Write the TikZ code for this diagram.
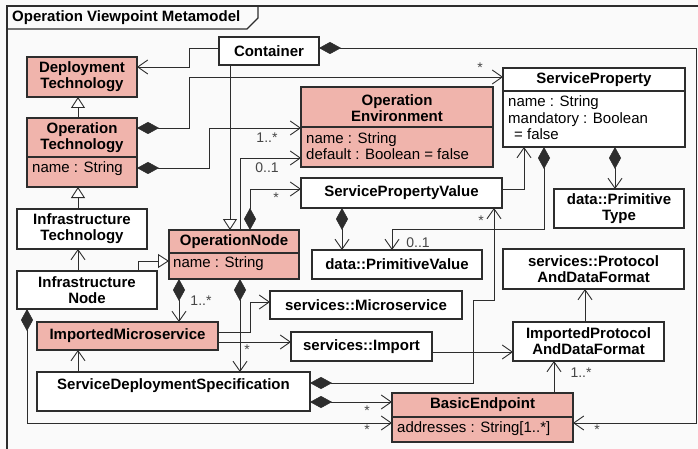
\documentclass[tikz,border=0pt]{standalone}
\usepackage{fontspec}
\setmainfont{Liberation Sans}
\usetikzlibrary{arrows.meta}
\definecolor{pinkfill}{RGB}{240,180,172}
\definecolor{bgc}{RGB}{250,250,250}
\definecolor{ln}{RGB}{45,45,45}
\definecolor{lbl}{RGB}{70,70,70}
\begin{document}
\begin{tikzpicture}[x=1pt,y=-1pt,
  box/.style={draw=ln, line width=1.1pt, fill=white, inner sep=0pt, outer sep=0pt,
    font=\fontsize{15}{16}\selectfont\bfseries, align=center},
  pbox/.style={box, fill=pinkfill},
  hd/.style={font=\fontsize{15}{16}\selectfont\bfseries, align=center, inner sep=0pt},
  attr/.style={font=\fontsize{15}{16.5}\selectfont, align=left, inner sep=0pt, anchor=west},
  ml/.style={font=\fontsize{14}{14}\selectfont, text=lbl, inner sep=0pt},
  divl/.style={draw=ln, line width=1.1pt},
  con/.style={draw=ln, line width=0.9pt},
  assoc/.style={con, -{Straight Barb[length=10pt,width=14pt,line width=0.9pt]}},
  comp/.style={con, {Diamond[length=22pt,width=12pt,fill=ln,line width=0.5pt]}-{Straight Barb[length=10pt,width=14pt,line width=0.9pt]}},
  gen/.style={con, -{Triangle[open,length=11pt,width=14pt,fill=white,line width=0.9pt]}}
]
% background and bounding box
\fill[bgc] (0,0) rectangle (698,449);
\useasboundingbox (0,0) rectangle (698,449);
% frame
\draw[ln, line width=1.2pt] (7,449) -- (7,6) -- (698,6);
\draw[ln, line width=1.2pt] (7,29) -- (247,29) -- (258,18) -- (258,6);
\node[hd, anchor=west] (title) at (12,18) {Operation Viewpoint Metamodel};

% classes
\node[box, minimum width=100pt, minimum height=28pt] (cont) at (269,51) {Container};
\node[pbox, minimum width=110pt, minimum height=40pt] (dt) at (82,77) {Deployment\\Technology};
\node[pbox, minimum width=110pt, minimum height=69pt] (ot) at (82,152.5) {};
\draw[divl] (ot.west |- 0,157) -- (ot.east |- 0,157);
\node[hd] (otH) at (82,138) {Operation\\Technology};
\node[attr] (otA) at (32,169) {name : String};

\node[box, minimum width=130pt, minimum height=40pt] (it) at (82,229) {Infrastructure\\Technology};
\node[box, minimum width=140pt, minimum height=38pt] (inode) at (87,290) {Infrastructure\\Node};

\node[pbox, minimum width=130pt, minimum height=49pt] (on) at (234,254.5) {};
\draw[divl] (on.west |- 0,253) -- (on.east |- 0,253);
\node[hd] (onH) at (234,242) {OperationNode};
\node[attr] (onA) at (173,264) {name : String};

\node[pbox, minimum width=192pt, minimum height=80pt] (oe) at (397,127) {};
\draw[divl] (oe.west |- 0,127) -- (oe.east |- 0,127);
\node[hd] (oeH) at (397,108) {Operation\\Environment};
\node[attr] (oeA) at (306,146) {name : String\\default : Boolean = false};

\node[box, minimum width=182pt, minimum height=79pt] (sp) at (594,107.5) {};
\draw[divl] (sp.west |- 0,91) -- (sp.east |- 0,91);
\node[hd] (spH) at (594,80) {ServiceProperty};
\node[attr] (spA) at (508,118) {name : String\\mandatory : Boolean\\\hspace*{6pt}= false};

\node[box, minimum width=130pt, minimum height=39pt] (pt) at (619,208.5) {data::Primitive\\Type};
\node[box, minimum width=201pt, minimum height=30pt] (spv) at (401.5,193) {ServicePropertyValue};
\node[box, minimum width=170pt, minimum height=29pt] (pv) at (397,264.5) {data::PrimitiveValue};
\node[box, minimum width=192pt, minimum height=28pt] (ms) at (366,305) {services::Microservice};
\node[pbox, minimum width=181pt, minimum height=28pt] (im) at (127.5,336) {ImportedMicroservice};
\node[box, minimum width=141pt, minimum height=29pt] (imp) at (361.5,346.5) {services::Import};
\node[box, minimum width=181pt, minimum height=40pt] (pdf) at (593.5,269) {services::Protocol\\AndDataFormat};
\node[box, minimum width=151pt, minimum height=39pt] (ipdf) at (588.5,341.5) {ImportedProtocol\\AndDataFormat};
\node[box, minimum width=273pt, minimum height=39pt] (sds) at (173.5,391.5) {};
\node[hd] (sdsH) at (173.5,386) {ServiceDeploymentSpecification};

\node[pbox, minimum width=181pt, minimum height=49pt] (be) at (482.5,417.5) {};
\draw[divl] (be.west |- 0,417) -- (be.east |- 0,417);
\node[hd] (beH) at (482.5,405) {BasicEndpoint};
\node[attr] (beA) at (397,429) {addresses : String[1..*]};

% connectors
\draw[assoc] (cont.west |- 0,48) -- (189,48) -- (189,67) -- (dt.east |- 0,67);
\draw[comp] (cont.east |- 0,48) -- (696,48) -- (696,423) -- (be.east |- 0,423);
\node[ml] (m1) at (597,430) {*};
\draw[gen] (cont.south -| 230,0) -- (on.north -| 230,0);
\draw[gen] (ot.north -| 78,0) -- (dt.south -| 78,0);
\draw[gen] (it.north -| 78,0) -- (ot.south -| 78,0);
\draw[assoc] (inode.north -| 78,0) -- (it.south -| 78,0);
\draw[gen] (inode.north -| 138,0) -- (138,261) -- (on.west |- 0,261);
\draw[comp] (ot.east |- 0,128) -- (189,128) -- (189,77) -- (sp.west |- 0,77);
\node[ml] (m2) at (480,68) {*};
\draw[comp] (ot.east |- 0,168) -- (209,168) -- (209,128) -- (oe.west |- 0,128);
\node[ml] (m3) at (267,138) {1..*};
\draw[assoc] (on.north -| 240,0) -- (240,158) -- (oe.west |- 0,158);
\node[ml] (m4) at (267,168) {0..1};
\draw[comp] (on.north -| 250,0) -- (250,189) -- (spv.west |- 0,189);
\node[ml] (m5) at (276,198) {*};
\draw[assoc] (spv.east |- 0,189) -- (524,189) -- (sp.south -| 524,0);
\draw[comp] (sp.south -| 544,0) -- (544,229) -- (392,229) -- (pv.north -| 392,0);
\node[ml] (m6) at (418,243) {0..1};
\draw[comp] (sp.south -| 615,0) -- (pt.north -| 615,0);
\draw[comp] (spv.south -| 342,0) -- (pv.north -| 342,0);
\draw[comp] (sds.east |- 0,383) -- (473,383) -- (473,300) -- (494,300) -- (spv.south -| 494,0);
\node[ml] (m7) at (481,221) {*};
\draw[comp] (sds.east |- 0,402) -- (be.west |- 0,402);
\node[ml] (m8) at (367,411) {*};
\draw[comp] (inode.south -| 27,0) -- (27,423) -- (be.west |- 0,423);
\node[ml] (m9) at (367,430) {*};
\draw[comp] (on.south -| 179,0) -- (im.north -| 179,0);
\node[ml] (m10) at (201,301) {1..*};
\draw[comp] (on.south -| 240,0) -- (sds.north -| 240,0);
\node[ml] (m11) at (247,350) {*};
\draw[assoc] (im.east |- 0,332) -- (250,332) -- (250,302) -- (ms.west |- 0,302);
\draw[assoc] (im.east |- 0,342) -- (imp.west |- 0,342);
\draw[assoc] (sds.north -| 78,0) -- (im.south -| 78,0);
\draw[assoc] (imp.east |- 0,352) -- (ipdf.west |- 0,352);
\draw[assoc] (ipdf.north -| 585,0) -- (pdf.south -| 585,0);
\draw[assoc] (be.north -| 554,0) -- (ipdf.south -| 554,0);
\node[ml] (m12) at (581,373) {1..*};
\end{tikzpicture}
\end{document}
